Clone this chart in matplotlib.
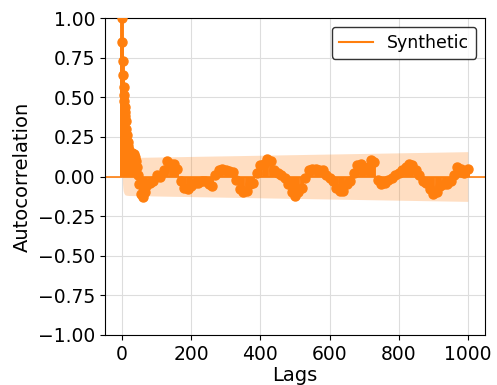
import matplotlib
matplotlib.use("Agg")
import matplotlib.pyplot as plt
import numpy as np

# autocorrelation (lag, value)
lags = [0, 1, 2, 3, 4, 5, 6, 7, 8, 9, 10, 12, 14, 16, 18, 20, 22, 25, 28, 31,
        34, 37, 40, 43, 46, 50, 55, 60, 65, 70, 80, 90, 100, 110, 120, 130,
        140, 150, 160, 170, 180, 190, 200, 210, 220, 230, 240, 250, 260, 270,
        280, 290, 300, 310, 320, 330, 340, 350, 360, 370, 380, 390, 400, 410,
        420, 430, 440, 450, 460, 470, 480, 490, 500, 510, 520, 530, 540, 550,
        560, 570, 580, 590, 600, 610, 620, 630, 640, 650, 660, 670, 680, 690,
        700, 710, 720, 730, 740, 750, 760, 770, 780, 790, 800, 810, 820, 830,
        840, 850, 860, 870, 880, 890, 900, 910, 920, 930, 940, 950, 960, 970,
        980, 990, 1000]
acf = [1.00, 0.85, 0.73, 0.64, 0.565, 0.515, 0.475, 0.44, 0.41, 0.38, 0.35,
       0.30, 0.26, 0.22, 0.19, 0.165, 0.15, 0.145, 0.15, 0.145, 0.14, 0.125,
       0.10, 0.06, 0.01, -0.05, -0.11, -0.13, -0.10, -0.06, -0.04, -0.03,
       0.01, 0.00, 0.04, 0.10, 0.08, 0.08, 0.05, -0.03, -0.07, -0.08, -0.06,
       -0.04, -0.04, -0.03, -0.03, -0.05, -0.06, 0.01, 0.04, 0.05, 0.04,
       0.035, 0.03, -0.02, -0.08, -0.10, -0.09, -0.05, -0.04, 0.02, 0.07,
       0.08, 0.11, 0.10, 0.04, 0.02, 0.01, -0.01, -0.05, -0.10, -0.125,
       -0.10, -0.07, -0.01, 0.04, 0.05, 0.05, 0.04, 0.04, 0.01, -0.01, -0.03,
       -0.07, -0.09, -0.09, -0.05, -0.03, 0.02, 0.07, 0.08, 0.04, 0.06, 0.105,
       0.09, -0.02, -0.05, -0.04, -0.02, -0.01, 0.01, 0.02, 0.04, 0.06, 0.08,
       0.075, 0.04, 0.01, -0.03, -0.04, -0.08, -0.11, -0.10, -0.06, -0.05,
       -0.05, -0.03, 0.01, 0.06, 0.05, 0.02, 0.045]

# half width of the confidence band
band_lags = [1, 2, 3, 5, 8, 12, 20, 1000]
band_half = [0.04, 0.07, 0.09, 0.105, 0.115, 0.118, 0.12, 0.157]

color = "#ff7f0e"

fig = plt.figure(figsize=(4.97, 3.85), dpi=100)
ax = fig.add_axes([0.211, 0.130, 0.765, 0.823])

band_half = np.array(band_half)
ax.fill_between(band_lags, -band_half, band_half, color=color, alpha=0.25,
                lw=0, zorder=1)
ax.axhline(0, color=color, lw=1.2, zorder=2)
ax.vlines(lags, 0, acf, color=color, lw=2.8, zorder=3)
ax.plot(lags, acf, "o", color=color, ms=6.5, zorder=4)
ax.plot([], [], color=color, label="Synthetic")

ax.set_xlim(-50, 1050)
ax.set_ylim(-1, 1)
ax.set_xticks(np.arange(0, 1001, 200))
yt = np.arange(-1, 1.01, 0.25)
ax.set_yticks(yt)
ax.set_yticklabels([f"{v:.2f}".replace("-", "\u2212") for v in yt])
ax.tick_params(labelsize=13.5)
ax.grid(color="#dddddd", lw=0.8)
ax.set_axisbelow(True)
ax.set_xlabel("Lags", fontsize=14, labelpad=2)
ax.set_ylabel("Autocorrelation", fontsize=14)
leg = ax.legend(loc="upper right", fontsize=12.5)
leg.get_frame().set_edgecolor("black")

fig.savefig("out.png", dpi=100)
